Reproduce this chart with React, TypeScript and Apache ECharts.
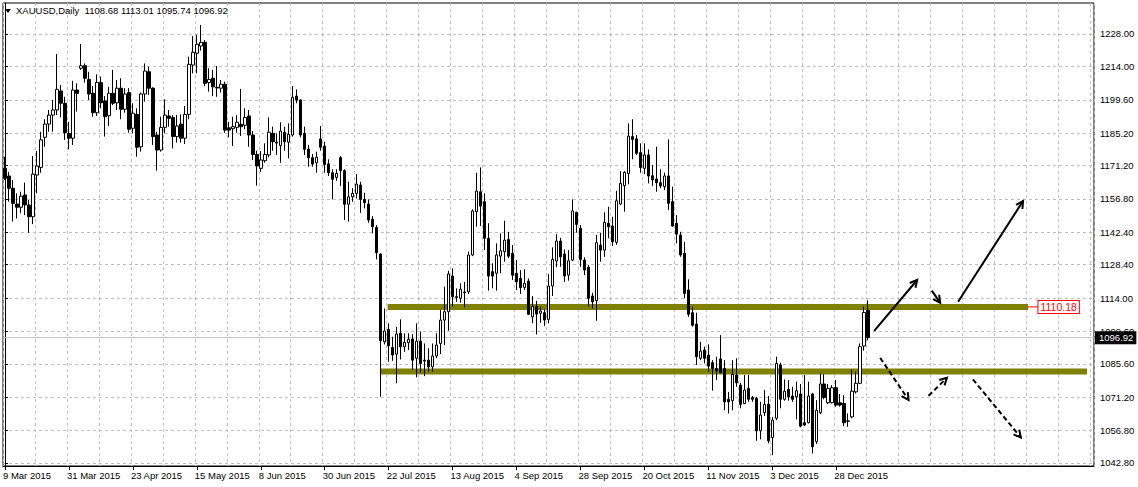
import React, { useEffect, useRef } from 'react';
import * as echarts from 'echarts';

// ---- OHLC of XAUUSD daily bars, 9 Mar 2015 .. 8 Jan 2016 ----
const opens = [
  1170.0, 1166.7, 1161.4, 1154.6, 1153.2, 1158.5, 1154.2, 1149.1, 1167.1, 1170.4,
  1183.4, 1189.1, 1193.0, 1195.2, 1203.4, 1198.1, 1185.1, 1183.0, 1203.8, 1213.2,
  1214.3, 1208.4, 1202.4, 1194.0, 1207.0, 1199.1, 1192.7, 1202.4, 1198.3, 1204.6,
  1195.5, 1202.7, 1187.3, 1193.3, 1179.3, 1202.1, 1211.7, 1204.6, 1184.4, 1177.9,
  1187.7, 1192.6, 1191.9, 1183.7, 1189.1, 1183.0, 1193.3, 1214.6, 1219.7, 1222.8,
  1224.4, 1207.0, 1208.9, 1205.0, 1204.6, 1206.3, 1187.5, 1187.1, 1187.7, 1189.0,
  1188.6, 1192.6, 1184.4, 1176.0, 1170.0, 1173.3, 1175.8, 1185.1, 1181.3, 1179.8,
  1185.6, 1181.3, 1184.4, 1201.2, 1199.5, 1185.1, 1178.3, 1174.6, 1172.4, 1182.7,
  1179.6, 1171.9, 1168.1, 1166.1, 1174.6, 1169.0, 1154.5, 1157.7, 1159.2, 1162.8,
  1156.6, 1154.6, 1148.0, 1144.5, 1133.0, 1095.1, 1100.5, 1092.7, 1089.8, 1098.8,
  1093.0, 1094.7, 1096.3, 1088.0, 1095.4, 1087.2, 1087.2, 1084.3, 1089.0, 1094.4,
  1104.5, 1108.1, 1123.5, 1114.6, 1113.9, 1116.6, 1116.7, 1132.6, 1151.3, 1159.9,
  1155.6, 1139.8, 1125.4, 1124.7, 1132.1, 1134.0, 1139.3, 1133.3, 1124.7, 1122.5,
  1118.6, 1121.3, 1105.9, 1110.3, 1107.4, 1107.7, 1104.8, 1119.2, 1130.0, 1138.6,
  1133.0, 1123.9, 1130.4, 1151.0, 1144.1, 1130.4, 1127.3, 1114.9, 1112.9, 1136.9,
  1134.7, 1146.3, 1145.1, 1138.1, 1154.6, 1162.5, 1167.8, 1183.7, 1182.7, 1176.8,
  1170.0, 1175.8, 1166.8, 1165.4, 1163.8, 1162.1, 1166.7, 1155.6, 1146.3, 1141.2,
  1133.3, 1117.5, 1107.7, 1102.8, 1088.0, 1091.6, 1089.4, 1086.1, 1083.6, 1087.7,
  1083.6, 1070.3, 1069.7, 1080.8, 1076.4, 1068.5, 1075.0, 1071.1, 1070.7, 1056.7,
  1064.5, 1068.2, 1053.8, 1062.1, 1085.1, 1070.3, 1074.6, 1071.7, 1071.4, 1072.6,
  1060.2, 1060.2, 1072.6, 1052.0, 1064.5, 1076.9, 1068.8, 1068.8, 1075.3, 1068.8,
  1068.5, 1060.8, 1062.7, 1073.5, 1077.2, 1093.3, 1108.68,
];
const highs = [
  1175.0, 1168.5, 1165.0, 1159.2, 1159.9, 1163.8, 1156.3, 1175.3, 1177.5, 1185.8,
  1191.2, 1195.2, 1199.5, 1219.4, 1206.0, 1200.9, 1190.1, 1207.8, 1206.7, 1223.7,
  1215.3, 1211.7, 1205.5, 1210.6, 1209.6, 1201.2, 1205.2, 1212.5, 1208.1, 1208.9,
  1204.6, 1204.6, 1198.1, 1195.9, 1202.7, 1215.3, 1213.9, 1205.0, 1185.8, 1192.3,
  1199.8, 1195.2, 1193.0, 1193.0, 1193.3, 1196.9, 1218.2, 1227.1, 1227.6, 1231.9,
  1225.4, 1213.2, 1212.5, 1214.2, 1208.1, 1207.4, 1190.1, 1192.3, 1193.0, 1204.3,
  1195.9, 1195.2, 1186.1, 1177.6, 1177.5, 1180.8, 1192.0, 1188.0, 1185.1, 1189.9,
  1188.0, 1189.4, 1205.5, 1204.1, 1199.8, 1188.0, 1180.1, 1176.2, 1177.2, 1188.3,
  1181.5, 1173.9, 1169.6, 1169.6, 1175.3, 1169.6, 1164.2, 1161.4, 1167.5, 1164.2,
  1159.5, 1156.6, 1149.4, 1145.5, 1133.3, 1109.5, 1103.1, 1097.3, 1101.6, 1104.8,
  1098.8, 1098.8, 1098.5, 1103.1, 1099.5, 1094.4, 1092.3, 1094.4, 1098.8, 1108.8,
  1118.9, 1125.8, 1126.8, 1118.2, 1120.4, 1121.0, 1134.0, 1152.3, 1168.1, 1170.4,
  1159.2, 1146.3, 1129.0, 1137.6, 1141.9, 1147.4, 1142.6, 1136.9, 1130.4, 1126.1,
  1126.4, 1122.5, 1114.9, 1112.8, 1110.3, 1109.1, 1124.4, 1135.9, 1141.6, 1140.0,
  1135.0, 1134.7, 1156.6, 1151.3, 1145.5, 1131.6, 1128.3, 1116.3, 1141.2, 1142.2,
  1151.0, 1153.4, 1149.1, 1160.3, 1168.8, 1168.8, 1189.4, 1191.2, 1184.4, 1180.8,
  1180.8, 1178.2, 1171.4, 1179.3, 1169.6, 1168.1, 1182.5, 1162.1, 1149.8, 1142.6,
  1138.3, 1122.1, 1110.3, 1107.7, 1095.1, 1093.0, 1094.0, 1087.2, 1088.7, 1098.0,
  1087.2, 1073.5, 1087.2, 1088.0, 1077.4, 1080.8, 1080.8, 1071.7, 1071.4, 1069.2,
  1074.3, 1071.7, 1062.7, 1088.7, 1086.1, 1078.9, 1078.6, 1075.7, 1077.9, 1076.9,
  1080.8, 1077.9, 1073.1, 1069.9, 1081.5, 1081.1, 1076.9, 1076.4, 1078.6, 1072.6,
  1072.1, 1064.2, 1083.2, 1082.2, 1094.4, 1110.3, 1113.01,
];
const lows = [
  1165.0, 1155.6, 1147.0, 1148.4, 1150.6, 1149.8, 1142.2, 1145.9, 1159.2, 1168.1,
  1179.3, 1185.8, 1185.8, 1193.0, 1192.0, 1182.3, 1178.2, 1180.1, 1194.5, 1212.5,
  1207.0, 1199.5, 1192.3, 1192.6, 1195.9, 1183.7, 1188.3, 1197.3, 1195.2, 1191.2,
  1194.0, 1185.4, 1185.1, 1175.0, 1177.2, 1198.8, 1201.7, 1180.1, 1169.0, 1177.2,
  1185.1, 1188.0, 1178.6, 1181.1, 1181.1, 1180.5, 1191.2, 1211.0, 1211.0, 1220.8,
  1205.5, 1203.1, 1201.2, 1200.9, 1202.7, 1185.4, 1183.4, 1179.6, 1185.4, 1184.0,
  1186.9, 1179.3, 1173.6, 1162.5, 1168.5, 1172.4, 1174.8, 1177.6, 1175.8, 1172.4,
  1177.6, 1174.3, 1183.7, 1198.1, 1183.4, 1175.8, 1170.7, 1170.7, 1168.1, 1177.6,
  1168.1, 1166.7, 1156.6, 1164.6, 1162.4, 1147.7, 1147.0, 1155.6, 1157.0, 1150.8,
  1152.7, 1146.5, 1141.9, 1130.7, 1071.4, 1094.0, 1086.5, 1086.9, 1077.2, 1087.5,
  1090.8, 1091.6, 1082.9, 1079.8, 1081.8, 1080.3, 1082.2, 1082.2, 1088.0, 1089.8,
  1093.7, 1099.9, 1110.3, 1112.4, 1112.0, 1110.0, 1115.7, 1132.1, 1144.8, 1145.1,
  1134.7, 1117.2, 1118.2, 1117.2, 1124.7, 1129.7, 1131.2, 1121.8, 1117.5, 1115.7,
  1117.5, 1106.7, 1103.1, 1098.3, 1103.3, 1101.9, 1103.1, 1114.9, 1127.3, 1127.5,
  1121.0, 1121.5, 1130.0, 1142.2, 1127.5, 1123.9, 1110.3, 1109.5, 1104.2, 1129.7,
  1131.8, 1139.8, 1136.5, 1137.0, 1154.2, 1151.3, 1163.1, 1173.9, 1175.8, 1168.1,
  1167.5, 1163.5, 1162.4, 1159.9, 1161.4, 1160.6, 1152.0, 1144.8, 1137.6, 1131.8,
  1113.9, 1105.9, 1101.6, 1085.1, 1087.2, 1085.8, 1082.2, 1074.0, 1078.6, 1081.5,
  1065.6, 1064.2, 1065.6, 1075.7, 1066.4, 1068.2, 1069.2, 1069.2, 1052.4, 1053.0,
  1063.1, 1051.3, 1046.2, 1061.3, 1066.4, 1069.7, 1069.7, 1069.2, 1061.6, 1058.2,
  1058.7, 1059.9, 1046.9, 1051.0, 1063.9, 1070.3, 1068.2, 1068.5, 1067.1, 1067.1,
  1058.7, 1058.4, 1062.1, 1072.8, 1076.9, 1091.3, 1095.74,
];
const closes = [
  1165.7, 1161.4, 1154.9, 1153.2, 1158.0, 1154.2, 1149.1, 1167.5, 1171.0, 1182.3,
  1189.1, 1193.0, 1195.2, 1204.1, 1198.1, 1185.4, 1183.0, 1203.8, 1202.4, 1214.3,
  1208.9, 1202.1, 1194.0, 1207.1, 1198.3, 1192.3, 1202.4, 1198.1, 1204.6, 1195.5,
  1202.1, 1186.9, 1193.8, 1179.1, 1202.1, 1212.0, 1204.6, 1183.7, 1177.9, 1187.7,
  1193.0, 1191.6, 1183.7, 1188.3, 1183.0, 1193.3, 1214.9, 1220.1, 1223.6, 1224.4,
  1206.7, 1208.4, 1205.2, 1204.7, 1206.3, 1186.5, 1186.5, 1188.0, 1189.9, 1188.0,
  1192.0, 1184.4, 1176.0, 1171.0, 1173.6, 1176.0, 1185.6, 1181.5, 1180.9, 1186.1,
  1181.5, 1184.7, 1200.7, 1199.5, 1184.4, 1178.2, 1174.6, 1171.9, 1174.8, 1179.1,
  1171.7, 1168.1, 1165.3, 1167.8, 1169.0, 1154.5, 1157.7, 1159.2, 1163.2, 1156.6,
  1155.2, 1147.7, 1144.8, 1133.6, 1095.6, 1099.8, 1093.4, 1089.4, 1098.5, 1093.0,
  1094.9, 1096.2, 1087.2, 1095.4, 1085.8, 1086.8, 1084.3, 1089.0, 1093.7, 1104.5,
  1108.1, 1124.4, 1114.6, 1114.3, 1117.8, 1116.3, 1132.6, 1151.6, 1160.2, 1153.7,
  1139.8, 1123.5, 1123.5, 1132.6, 1134.4, 1139.0, 1132.1, 1123.9, 1121.0, 1118.5,
  1120.4, 1107.0, 1110.3, 1107.1, 1108.4, 1104.5, 1119.2, 1130.7, 1138.6, 1131.8,
  1123.5, 1130.1, 1151.6, 1145.8, 1130.7, 1126.1, 1113.9, 1112.4, 1137.9, 1134.7,
  1146.7, 1144.8, 1138.3, 1156.0, 1163.5, 1168.3, 1183.9, 1182.5, 1176.5, 1170.4,
  1175.8, 1166.7, 1165.0, 1163.8, 1162.4, 1166.7, 1154.9, 1145.1, 1141.6, 1132.6,
  1116.0, 1107.0, 1102.3, 1088.7, 1091.1, 1088.0, 1084.6, 1083.6, 1082.6, 1081.8,
  1069.2, 1069.2, 1081.1, 1077.4, 1068.1, 1074.3, 1070.3, 1070.3, 1056.7, 1063.5,
  1068.1, 1052.4, 1061.3, 1085.8, 1070.3, 1073.8, 1071.4, 1070.3, 1074.0, 1058.7,
  1059.2, 1071.7, 1049.8, 1065.6, 1076.9, 1071.1, 1075.0, 1075.3, 1067.8, 1067.8,
  1060.2, 1061.0, 1073.8, 1077.2, 1093.0, 1107.8, 1096.92,
];

// ---- axis / annotation values ----
const priceTicks = [1042.8, 1056.8, 1071.2, 1085.6, 1099.6, 1114.0, 1128.4, 1142.4, 1156.8, 1171.2, 1185.2, 1199.6, 1214.0, 1228.0];
const firstDay = '2015-03-09';
const skippedDays = ['2015-04-03', '2015-12-25', '2016-01-01'];
const futureBars = 56;
const labelEvery = 16;
const gridEvery = 8;
const upperLevel = 1110.18;
const lowerLevel = 1082.3;
const currentPrice = 1096.92;
const upperSpan = [95.75, 256];
const lowerSpan = [94, 270.75];
const upperLabelLink = [256, 258.6];
// [barFrom, priceFrom, barTo, priceTo, dashed]
const arrows = [
  [217.5, 1099.8, 228.25, 1121.8, 0],
  [231.9, 1117.2, 234.0, 1112.0, 0],
  [238.5, 1112.4, 254.75, 1155.9, 0],
  [219.0, 1088.2, 226.1, 1070.0, 1],
  [231.1, 1071.8, 235.7, 1079.6, 1],
  [242.2, 1078.9, 254.2, 1053.8, 1],
];
const monthNames = ['Jan', 'Feb', 'Mar', 'Apr', 'May', 'Jun', 'Jul', 'Aug', 'Sep', 'Oct', 'Nov', 'Dec'];

const FONT = '"Liberation Sans", Arial, sans-serif';

function tradingDays(count: number): string[] {
  const out: string[] = [];
  const d = new Date(firstDay + 'T00:00:00Z');
  while (out.length < count) {
    const iso = d.toISOString().slice(0, 10);
    const wd = d.getUTCDay();
    if (wd !== 0 && wd !== 6 && skippedDays.indexOf(iso) < 0) {
      out.push(`${d.getUTCDate()} ${monthNames[d.getUTCMonth()]} ${d.getUTCFullYear()}`);
    }
    d.setUTCDate(d.getUTCDate() + 1);
  }
  return out;
}

export default function App() {
  const ref = useRef<HTMLDivElement>(null);

  useEffect(() => {
    document.body.style.margin = '0';
    if (!ref.current) return;
    const chart = echarts.init(ref.current, undefined, { renderer: 'svg' });
    const n = opens.length;
    const total = n + futureBars;
    const categories = tradingDays(total);
    const candles = opens.map((o, i) => [o, closes[i], lows[i], highs[i]]);
    const last = n - 1;
    const titleText = `XAUUSD,Daily  ${opens[last].toFixed(2)} ${highs[last].toFixed(2)} ${lows[last].toFixed(2)} ${closes[last].toFixed(2)}`;

    const showLabel = (i: number) => i % labelEvery === 0 && i < n;

    chart.setOption({
      animation: false,
      backgroundColor: '#ffffff',
      title: {
        text: titleText,
        left: 16,
        top: 5,
        padding: 0,
        textStyle: { fontSize: 9.5, fontWeight: 'normal', fontFamily: FONT, color: '#000' },
      },
      grid: {
        left: 2, right: 44, top: 3, bottom: 21,
        show: true, borderColor: '#000', borderWidth: 1, backgroundColor: 'transparent',
      },
      xAxis: [
        {
          type: 'category',
          data: categories,
          boundaryGap: true,
          axisLine: { show: true, lineStyle: { color: '#000', width: 1 } },
          axisTick: { show: true, alignWithLabel: true, interval: showLabel, length: 4, lineStyle: { color: '#000' } },
          axisLabel: {
            interval: showLabel, align: 'left', margin: 4, color: '#000',
            fontSize: 9.5, fontFamily: FONT, hideOverlap: false, padding: [0, 0, 0, -2],
          },
          splitLine: { show: true, interval: (i: number) => i % gridEvery === 0, lineStyle: { color: '#c0c0c0', type: [3, 3], width: 1 } },
        },
        {
          type: 'value', min: -0.5, max: total - 0.5, show: false,
          axisLine: { show: false }, splitLine: { show: false },
        },
      ],
      yAxis: {
        type: 'value',
        position: 'right',
        min: 1041.5,
        max: 1241.38,
        axisLine: { show: true, lineStyle: { color: '#000', width: 1 } },
        axisTick: { show: true, customValues: priceTicks, length: 3, lineStyle: { color: '#000' } },
        axisLabel: {
          customValues: priceTicks, formatter: (v: number) => v.toFixed(2),
          color: '#000', fontSize: 9.5, fontFamily: FONT, margin: 6,
        },
        splitLine: { show: true, lineStyle: { color: '#c0c0c0', type: [3, 3], width: 1 } },
      },
      series: [
        {
          type: 'line', xAxisIndex: 1, yAxisIndex: 0, silent: true, symbol: 'none', z: 2, clip: false,
          data: [[-0.5, currentPrice], [total - 0.5, currentPrice]],
          lineStyle: { color: '#c0c0c0', width: 1 },
          endLabel: {
            show: true, formatter: currentPrice.toFixed(2), color: '#fff', backgroundColor: '#000',
            padding: [2, 3, 1, 4], distance: 1, fontSize: 9.5, fontFamily: FONT,
          },
        },
        {
          type: 'line', xAxisIndex: 1, yAxisIndex: 0, silent: true, symbol: 'none', z: 3,
          data: [[upperSpan[0], upperLevel], [upperSpan[1], upperLevel]],
          lineStyle: { color: '#808000', width: 6, cap: 'butt' },
        },
        {
          type: 'line', xAxisIndex: 1, yAxisIndex: 0, silent: true, symbol: 'none', z: 3,
          data: [[lowerSpan[0], lowerLevel], [lowerSpan[1], lowerLevel]],
          lineStyle: { color: '#808000', width: 6, cap: 'butt' },
        },
        {
          type: 'line', xAxisIndex: 1, yAxisIndex: 0, silent: true, symbol: 'none', z: 3, clip: false,
          data: [[upperLabelLink[0], upperLevel], [upperLabelLink[1], upperLevel]],
          lineStyle: { color: '#ff0000', width: 1 },
          endLabel: {
            show: true, formatter: upperLevel.toFixed(2), color: '#ff0000', backgroundColor: '#ffffff',
            borderColor: '#ff0000', borderWidth: 1, padding: [1, 2, 0, 2], distance: 0,
            fontSize: 10.5, fontFamily: FONT,
          },
        },
        {
          type: 'candlestick', xAxisIndex: 0, yAxisIndex: 0, z: 5,
          data: candles,
          barWidth: 3,
          itemStyle: {
            color: '#ffffff', color0: '#000000', borderColor: '#000000', borderColor0: '#000000',
            borderColorDoji: '#000000', borderWidth: 1,
          },
        },
      ],
    });

    // arrows drawn in data space (bar index, price) through the hidden value axis
    const elements: any[] = [
      { type: 'polygon', shape: { points: [[5, 9], [11, 9], [8, 13]] }, style: { fill: '#000' }, z: 10 },
    ];
    const head = 8;
    const ang = (28 * Math.PI) / 180;
    arrows.forEach((a) => {
      const p0 = chart.convertToPixel({ xAxisIndex: 1, yAxisIndex: 0 }, [a[0], a[1]]) as number[];
      const p1 = chart.convertToPixel({ xAxisIndex: 1, yAxisIndex: 0 }, [a[2], a[3]]) as number[];
      const t = Math.atan2(p1[1] - p0[1], p1[0] - p0[0]);
      const h1 = [p1[0] - head * Math.cos(t - ang), p1[1] - head * Math.sin(t - ang)];
      const h2 = [p1[0] - head * Math.cos(t + ang), p1[1] - head * Math.sin(t + ang)];
      elements.push({
        type: 'line', z: 10,
        shape: { x1: p0[0], y1: p0[1], x2: p1[0], y2: p1[1] },
        style: { stroke: '#000', lineWidth: 2, lineDash: a[4] ? [5, 3] : null },
      });
      elements.push({
        type: 'polyline', z: 10,
        shape: { points: [h1, p1, h2] },
        style: { stroke: '#000', lineWidth: 2, fill: null },
      });
    });
    chart.setOption({ graphic: { elements } });

    return () => chart.dispose();
  }, []);

  return <div ref={ref} style={{ width: 1138, height: 487 }} />;
}
